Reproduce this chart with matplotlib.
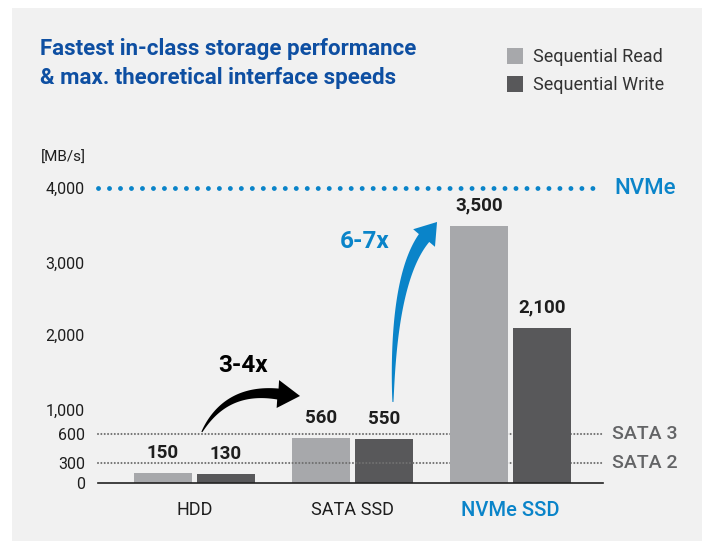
import numpy as np
import matplotlib
matplotlib.use("Agg")
import matplotlib.pyplot as plt
from matplotlib.patches import Polygon, Rectangle
from matplotlib.transforms import IdentityTransform, blended_transform_factory

# ---------------- data ----------------
categories = ["HDD", "SATA SSD", "NVMe SSD"]
series_names = ["Sequential Read", "Sequential Write"]
seq_read = [150, 560, 3500]
seq_write = [130, 550, 2100]
value_labels_read = ["150", "560", "3,500"]
value_labels_write = ["130", "550", "2,100"]
y_ticks = [0, 300, 600, 1000, 2000, 3000, 4000]
y_tick_labels = ["0", "300", "600", "1,000", "2,000", "3,000", "4,000"]
ref_levels = [4000, 600, 300]
ref_names = ["NVMe", "SATA 3", "SATA 2"]
y_unit = "[MB/s]"
title_lines = ["Fastest in-class storage performance",
               "& max. theoretical interface speeds"]
growth_labels = ["3-4x", "6-7x"]

# schematic (non-linear) value axis: tick value -> relative height
knot_vals = np.array([0, 300, 600, 1000, 2000, 3000, 4000], dtype=float)
knot_pos = np.array([0, 20, 49, 73, 148, 220, 295], dtype=float)

# ---------------- style ----------------
FONT = ["Roboto", "DejaVu Sans"]
plt.rcParams["font.family"] = FONT
C_READ = "#a7a8ab"
C_WRITE = "#58585a"
C_BLUE = "#0a84c9"
C_TITLE = "#0e4fa2"
C_TEXT = "#1e1e1e"
C_GREY = "#636466"
C_PANEL = "#f1f1f1"
MED = 500

W, H = 702, 541
fig = plt.figure(figsize=(W / 100, H / 100), dpi=100)
fig.patch.set_facecolor("white")
fig.add_artist(Rectangle((12 / W, 0), 1, 1 - 8 / H, transform=fig.transFigure,
                         facecolor=C_PANEL, edgecolor="none", zorder=-10))

ax_left, ax_right, ax_base, ax_top = 98, 603, 483, 188
ax = fig.add_axes([ax_left / W, (H - ax_base) / H,
                   (ax_right - ax_left) / W, (ax_base - ax_top) / H])
ax.patch.set_alpha(0)


def fwd(v):
    return np.interp(v, knot_vals, knot_pos)


def inv(p):
    return np.interp(p, knot_pos, knot_vals)


ax.set_yscale("function", functions=(fwd, inv))
ax.set_ylim(0, 4000)
ax.set_xlim(-0.61, 2.585)

x = np.arange(len(categories))
bw = 0.368
off = 0.199
b1 = ax.bar(x - off, seq_read, bw, color=C_READ, label=series_names[0], zorder=2)
b2 = ax.bar(x + off, seq_write, bw, color=C_WRITE, label=series_names[1], zorder=2)
# NVMe bars sit above the reference lines
b1.patches[2].set_zorder(5)
b2.patches[2].set_zorder(5)

# reference lines
for lvl, name in zip(ref_levels, ref_names):
    if name == "NVMe":
        ax.axhline(lvl, color=C_BLUE, lw=3.5, ls=(0, (0.01, 2.25)),
                   dash_capstyle="round", zorder=3, clip_on=False)
        ax.text(1 + 11 / (ax_right - ax_left), lvl, name, color=C_BLUE,
                fontsize=16, fontweight=MED, va="center", ha="left",
                transform=blended_transform_factory(ax.transAxes, ax.transData))
    else:
        ax.axhline(lvl, color="#707070", lw=1.5, ls=(0, (0.01, 1.6)),
                   dash_capstyle="round", zorder=3, clip_on=False)
        ax.text(1 + 9 / (ax_right - ax_left), lvl, name, color=C_GREY,
                fontsize=14, fontweight=MED, va="center", ha="left",
                transform=blended_transform_factory(ax.transAxes, ax.transData))

# value labels
for bars, labs in ((b1, value_labels_read), (b2, value_labels_write)):
    for p, lab in zip(bars.patches, labs):
        ax.annotate(lab, (p.get_x() + p.get_width() / 2, p.get_height()),
                    xytext=(0, 14.5), textcoords="offset points",
                    ha="center", va="center", fontsize=13.5, fontweight="bold",
                    color=C_TEXT, zorder=6)

# axes styling
for s in ("top", "right", "left"):
    ax.spines[s].set_visible(False)
ax.spines["bottom"].set_linewidth(1.2)
ax.spines["bottom"].set_color("#222222")
ax.spines["bottom"].set_zorder(6)
ax.set_yticks(y_ticks)
ax.set_yticklabels(y_tick_labels)
ax.tick_params(axis="y", length=0, pad=9.5, labelsize=11.5, labelcolor=C_TEXT)
ax.yaxis.set_minor_locator(matplotlib.ticker.NullLocator())
ax.set_xticks(x)
ax.set_xticklabels(categories)
ax.tick_params(axis="x", length=0, pad=13, labelsize=13, labelcolor=C_TEXT)
lbl = ax.get_xticklabels()[2]
lbl.set_color(C_BLUE)
lbl.set_fontweight(MED)
lbl.set_fontsize(14.5)

# unit label
fig.text(41 / W, 1 - 158 / H, y_unit, fontsize=11, color=C_TEXT,
         va="center", ha="left")

# title
fig.text(40 / W, 1 - 49 / H, title_lines[0], fontsize=16, fontweight="bold",
         color=C_TITLE, va="center", ha="left")
fig.text(40 / W, 1 - 78 / H, title_lines[1], fontsize=16, fontweight="bold",
         color=C_TITLE, va="center", ha="left")

# legend
leg = fig.legend(handles=[b1, b2], labels=series_names, loc="upper left",
                 bbox_to_anchor=(507 / W, 1 - 48 / H), frameon=False,
                 fontsize=13, handlelength=0.9, handleheight=1.0,
                 handletextpad=0.55, labelspacing=0.55, borderaxespad=0,
                 borderpad=0)
for t in leg.get_texts():
    t.set_color("#333333")


# curved tapered arrows (annotations), anchored in data coordinates
def curved_arrow(tail, ctrl, base, tip, w0, w1, head_w, color):
    P = ax.transData.transform(np.array([tail, ctrl, base, tip]))
    p0, c, p2, pt = P
    t = np.linspace(0, 1, 60)[:, None]
    pts = (1 - t) ** 2 * p0 + 2 * (1 - t) * t * c + t ** 2 * p2
    d = 2 * (1 - t) * (c - p0) + 2 * t * (p2 - c)
    d = d / np.linalg.norm(d, axis=1, keepdims=True)
    n = np.column_stack([-d[:, 1], d[:, 0]])
    w = (w0 + (w1 - w0) * t[:, 0] ** 0.8)[:, None] / 2
    left = pts + n * w
    right = pts - n * w
    hd = pt - p2
    hd = hd / np.linalg.norm(hd)
    hn = np.array([-hd[1], hd[0]])
    head = [p2 + hn * head_w / 2, pt, p2 - hn * head_w / 2]
    poly = np.vstack([left, head, right[::-1]])
    fig.add_artist(Polygon(poly, closed=True, facecolor=color, edgecolor="none",
                           transform=IdentityTransform(), zorder=7))


curved_arrow(tail=(0.047, 633), ctrl=(0.20, 1300), base=(0.528, 1213),
             tip=(0.668, 1187), w0=1.0, w1=11, head_w=28, color="black")
curved_arrow(tail=(1.256, 1107), ctrl=(1.256, 2778), base=(1.453, 3333),
             tip=(1.535, 3547), w0=1.0, w1=13, head_w=28, color=C_BLUE)

ax.text(0.307, 1600, growth_labels[0], fontsize=17.5, fontweight="bold",
        color="black", ha="center", va="center")
ax.text(1.079, 3280, growth_labels[1], fontsize=17.5, fontweight="bold",
        color=C_BLUE, ha="center", va="center")

fig.savefig("out.png", dpi=100)
